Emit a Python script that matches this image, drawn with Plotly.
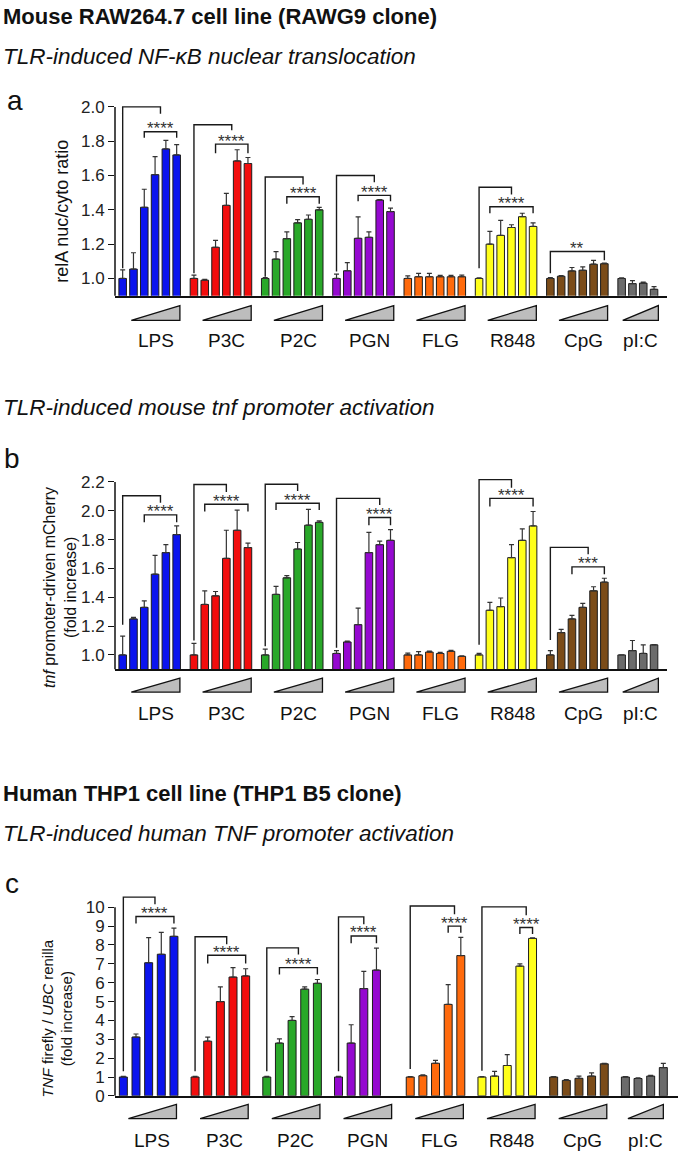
import plotly.graph_objects as go

W, H = 685, 1160
FONT = "Liberation Sans, Arial, sans-serif"

groups = ["LPS", "P3C", "P2C", "PGN", "FLG", "R848", "CpG", "pI:C"]
colors = ["#0b14ee", "#f20d0d", "#29a829", "#9509d0", "#ff6a0c", "#ffff1a", "#7b4c19", "#6b6b6b"]

# panel a : relA nuc/cyto ratio
a_vals = [[1.0, 1.055, 1.415, 1.605, 1.755, 1.72],
          [1.0, 0.99, 1.182, 1.426, 1.685, 1.67],
          [1.0, 1.113, 1.232, 1.324, 1.345, 1.40],
          [1.0, 1.045, 1.234, 1.24, 1.457, 1.39],
          [1.0, 1.01, 1.01, 1.01, 1.01, 1.01],
          [1.0, 1.2, 1.251, 1.297, 1.36, 1.303],
          [1.0, 1.013, 1.044, 1.048, 1.083, 1.086],
          [1.0, 0.97, 0.973, 0.937]]
a_err = [[0.05, 0.095, 0.105, 0.105, 0.05, 0.06],
         [0.02, 0.005, 0.04, 0.07, 0.065, 0.035],
         [0.005, 0.044, 0.04, 0.019, 0.025, 0.014],
         [0.025, 0.047, 0.125, 0.032, 0.003, 0.02],
         [0.015, 0.02, 0.02, 0.008, 0.008, 0.01],
         [0.003, 0.075, 0.087, 0.016, 0.02, 0.021],
         [0.005, 0.003, 0.02, 0.02, 0.023, 0.004],
         [0.003, 0.018, 0.006, 0.015]]
# (group, left bar, left end, right bar, right end, top, label)
a_brackets = [(0, 0, 1.06, 3.5, 1.96, 2.0, ""), (0, 2, 1.82, 5, 1.82, 1.855, "****"),
              (1, 0, 1.03, 3.5, 1.864, 1.896, ""), (1, 2, 1.73, 5, 1.73, 1.783, "****"),
              (2, 0, 1.01, 3.5, 1.547, 1.591, ""), (2, 2, 1.436, 5, 1.436, 1.476, "****"),
              (3, 0, 1.04, 3.5, 1.56, 1.60, ""), (3, 2, 1.45, 5, 1.45, 1.484, "****"),
              (5, 0, 1.06, 3, 1.49, 1.532, ""), (5, 1, 1.38, 5, 1.38, 1.418, "****"),
              (6, 0, 1.03, 5, 1.106, 1.157, "**")]

# panel b : tnf promoter-driven mCherry
b_vals = [[1.0, 1.25, 1.33, 1.56, 1.71, 1.835],
          [1.0, 1.35, 1.41, 1.67, 1.865, 1.745],
          [1.0, 1.42, 1.535, 1.735, 1.9, 1.92],
          [1.01, 1.09, 1.21, 1.71, 1.765, 1.795],
          [1.0, 1.0, 1.02, 1.01, 1.025, 0.99],
          [1.0, 1.31, 1.335, 1.675, 1.795, 1.895],
          [1.0, 1.155, 1.25, 1.33, 1.445, 1.505],
          [1.0, 1.03, 1.01, 1.07]]
b_err = [[0.13, 0.01, 0.045, 0.13, 0.055, 0.06],
         [0.08, 0.095, 0.03, 0.195, 0.14, 0.03],
         [0.04, 0.055, 0.015, 0.045, 0.11, 0.01],
         [0.02, 0.005, 0.115, 0.14, 0.025, 0.075],
         [0.012, 0.023, 0.007, 0.007, 0.007, 0.003],
         [0.01, 0.055, 0.06, 0.09, 0.08, 0.1],
         [0.03, 0.022, 0.025, 0.028, 0.028, 0.027],
         [0.0, 0.07, 0.06, 0.002]]
b_brackets = [(0, 0, 1.21, 3.5, 2.056, 2.104, ""), (0, 2, 1.92, 5, 1.92, 1.972, "****"),
              (1, 0, 1.1, 3, 2.13, 2.182, ""), (1, 1, 1.995, 5, 1.995, 2.045, "****"),
              (2, 0, 1.06, 3, 2.138, 2.184, ""), (2, 1, 2.006, 5, 2.006, 2.052, "****"),
              (3, 0, 1.05, 4, 2.04, 2.086, ""), (3, 3, 1.9, 5, 1.9, 1.953, "****"),
              (5, 0, 1.07, 3, 2.16, 2.216, ""), (5, 1, 2.03, 5, 2.03, 2.086, "****"),
              (6, 0, 1.104, 3.5, 1.698, 1.746, ""), (6, 2, 1.56, 5, 1.56, 1.611, "***")]

# panel c : TNF firefly / UBC renilla
c_vals = [[1.0, 3.12, 7.06, 7.51, 8.46],
          [1.0, 2.9, 5.0, 6.3, 6.36],
          [1.0, 2.8, 4.0, 5.66, 5.97],
          [1.0, 2.8, 5.69, 6.67],
          [1.0, 1.07, 1.73, 4.85, 7.44],
          [1.0, 1.05, 1.61, 6.88, 8.35],
          [1.0, 0.82, 0.93, 1.05, 1.7],
          [1.0, 0.92, 1.05, 1.5]]
c_err = [[0.03, 0.16, 1.33, 1.16, 0.44],
         [0.03, 0.22, 0.78, 0.5, 0.38],
         [0.03, 0.22, 0.2, 0.12, 0.2],
         [0.03, 0.97, 0.91, 1.16],
         [0.02, 0.04, 0.15, 1.05, 0.96],
         [0.02, 0.25, 0.58, 0.12, 0.03],
         [0.02, 0.04, 0.12, 0.17, 0.03],
         [0.02, 0.03, 0.04, 0.22]]
c_brackets = [(0, 0, 1.3, 2.5, 10.16, 10.54, ""), (0, 1, 9.14, 4, 9.14, 9.51, "****"),
              (1, 0, 1.3, 2.5, 8.04, 8.44, ""), (1, 1, 7.02, 4, 7.02, 7.46, "****"),
              (2, 0, 1.3, 2.5, 7.5, 7.85, ""), (2, 1, 6.44, 4, 6.44, 6.8, "****"),
              (3, 0, 1.3, 2, 9.1, 9.49, ""), (3, 1, 8.09, 3, 8.09, 8.48, "****"),
              (4, 0, 1.42, 3.5, 9.63, 10.07, ""), (4, 3, 8.65, 4, 8.65, 9.0, "****"),
              (5, 0, 1.33, 3.5, 9.58, 10.02, ""), (5, 3, 8.58, 4, 8.58, 8.93, "****")]


def fx(px):
    return px / W


def fy(py):
    return 1 - py / H


# panel geometry in pixels
panels = [
    dict(vals=a_vals, err=a_err, br=a_brackets, pitch=6.6, bw=0.7, xr=[-0.71, 50.4],
         px=(115, 667), py=(296.7, 97.3), yr=[0.9, 2.05], ytopx=106,
         ticks=[1.0, 1.2, 1.4, 1.6, 1.8, 2.0], fmt=".1f", tri=((0.8, 5.3), (0.1, 3.4)),
         tripx=(306.7, 321.7), labpx=342),
    dict(vals=b_vals, err=b_err, br=b_brackets, pitch=6.6, bw=0.7, xr=[-0.71, 50.4],
         px=(115, 667), py=(674.3, 477.7), yr=[0.9, 2.25], ytopx=485,
         ticks=[1.0, 1.2, 1.4, 1.6, 1.8, 2.0, 2.2], fmt=".1f", tri=((0.8, 5.3), (0.1, 3.4)),
         tripx=(683.3, 697.3), labpx=719),
    dict(vals=c_vals, err=c_err, br=c_brackets, pitch=5.67, bw=0.63, xr=[-0.66, 43.85],
         px=(115, 678), py=(1105.3, 901.4), yr=[0, 10.7], ytopx=914.7,
         ticks=list(range(0, 11)), fmt="d", tri=((0.4, 4.2), (0.2, 3.0)),
         tripx=(1114, 1128.3), labpx=1150),
]

fig = go.Figure()
shapes = []
annotations = []

for k, p in enumerate(panels):
    sfx = "" if k == 0 else str(k + 1)
    xa, ya = "x" + sfx, "y" + sfx
    for g, name in enumerate(groups):
        vals = p["vals"][g]
        xs = [g * p["pitch"] + i for i in range(len(vals))]
        fig.add_trace(go.Bar(
            x=xs, y=vals, width=p["bw"], xaxis=xa, yaxis=ya, showlegend=False,
            marker=dict(color=colors[g], line=dict(color="#1c1c1c", width=1)),
            error_y=dict(type="data", symmetric=False, array=p["err"][g],
                         arrayminus=[0] * len(vals), color="#333333",
                         thickness=1.2, width=2.5),
        ))
        # dose triangle + label under each group
        t0, t1 = p["tri"][1] if name == "pI:C" else p["tri"][0]
        x0, x1 = g * p["pitch"] + t0, g * p["pitch"] + t1
        yt, yb = fy(p["tripx"][0]), fy(p["tripx"][1])
        shapes.append(dict(type="path", xref=xa, yref="paper",
                           path=f"M {x0},{yb} L {x1},{yb} L {x1},{yt} Z",
                           fillcolor="#bdbdbd", line=dict(color="#111111", width=1.3)))
        annotations.append(dict(x=(x0 + x1) / 2, y=fy(p["labpx"]), xref=xa, yref="paper",
                                text=name, showarrow=False, yanchor="middle",
                                font=dict(size=19, color="#111111")))
    # significance brackets
    bx, by = [], []
    for g, xl, yl, xr, yr, top, lab in p["br"]:
        base = g * p["pitch"]
        bx += [base + xl, base + xl, base + xr, base + xr, None]
        by += [yl, top, top, yr, None]
        if lab:
            annotations.append(dict(x=base + (xl + xr) / 2, y=top, xref=xa, yref=ya,
                                    text=lab, showarrow=False, yanchor="middle", yshift=3,
                                    font=dict(size=17, color="#333333")))
    fig.add_trace(go.Scatter(x=bx, y=by, mode="lines", xaxis=xa, yaxis=ya, showlegend=False,
                             line=dict(color="#1a1a1a", width=1.4), hoverinfo="skip"))
    # y spine stops at the top tick
    shapes.append(dict(type="line", xref="paper", yref="paper",
                       x0=fx(p["px"][0]), x1=fx(p["px"][0]),
                       y0=fy(p["py"][0]), y1=fy(p["ytopx"]),
                       line=dict(color="#111111", width=1.5)))
    fig.update_layout(**{
        "xaxis" + sfx: dict(domain=[fx(p["px"][0]), fx(p["px"][1])], range=p["xr"],
                            anchor=ya, showline=True, linecolor="#111111", linewidth=1.5,
                            showticklabels=False, ticks="", showgrid=False, zeroline=False),
        "yaxis" + sfx: dict(domain=[fy(p["py"][0]), fy(p["py"][1])], range=p["yr"],
                            anchor=xa, showline=False, tickvals=p["ticks"], tickformat=p["fmt"],
                            ticks="outside", ticklen=6, tickwidth=1.3, tickcolor="#111111",
                            tickfont=dict(size=17, color="#222222"),
                            showgrid=False, zeroline=False),
    })

texts = [
    ("<b>Mouse RAW264.7 cell line (RAWG9 clone)</b>", 1, 15, 22),
    ("<i>TLR-induced NF-κB nuclear translocation</i>", 1, 55, 22.5),
    ("a", 5, 100, 28),
    ("<i>TLR-induced mouse tnf promoter activation</i>", 1, 410, 22.5),
    ("b", 2, 461, 28),
    ("<b>Human THP1 cell line (THP1 B5 clone)</b>", 1, 800, 22),
    ("<i>TLR-induced human TNF promoter activation</i>", 1, 840, 22.5),
    ("c", 3, 891, 28),
]
for t, x, y, s in texts:
    annotations.append(dict(x=fx(x), y=fy(y), xref="paper", yref="paper", text=t,
                            showarrow=False, xanchor="left", yanchor="middle",
                            font=dict(size=s, color="#111111")))

ytitles = [
    ("relA nuc/cyto ratio", 62, 212, 18),
    ("<i>tnf</i> promoter-driven mCherry<br>(fold increase)", 60, 592, 16),
    ("<i>TNF</i> firefly / <i>UBC</i> renilla<br>(fold increase)", 57, 1027, 15),
]
for t, x, y, s in ytitles:
    annotations.append(dict(x=fx(x), y=fy(y), xref="paper", yref="paper", text=t,
                            showarrow=False, textangle=-90, xanchor="center", yanchor="middle",
                            font=dict(size=s, color="#111111")))

fig.update_layout(width=W, height=H, margin=dict(l=0, r=0, t=0, b=0),
                  paper_bgcolor="white", plot_bgcolor="white", barmode="overlay",
                  font=dict(family=FONT, color="#111111"),
                  shapes=shapes, annotations=annotations)

# pin the plot to the top-left corner of the page
fig.write_html("out.html", config={"displayModeBar": False},
               post_script="document.body.style.margin='0';"
                           "document.documentElement.style.overflow='hidden';"
                           "var d=document.getElementById('{plot_id}');"
                           "d.style.position='fixed';d.style.top='0';d.style.left='0';")
